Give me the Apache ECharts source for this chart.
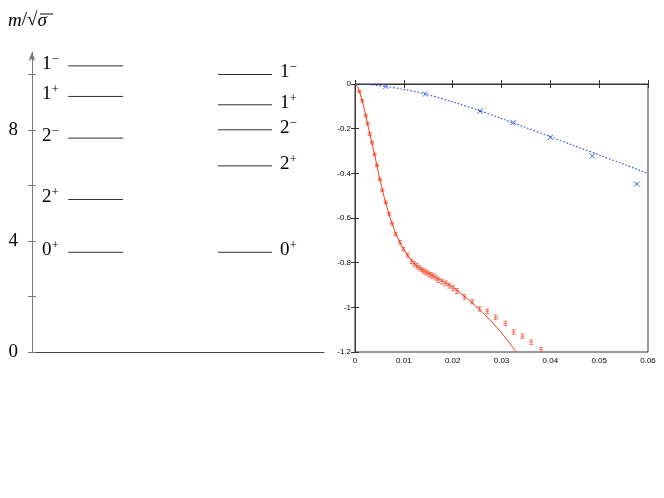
<!DOCTYPE html>
<html>
<head>
<meta charset="utf-8">
<script src="https://cdn.jsdelivr.net/npm/echarts@6/dist/echarts.min.js"></script>
<style>
    html, body {margin: 0; padding: 0; background: #fff;}
    #chart {width: 664px; height: 498px;}
</style>
</head>
<body>
<div id="chart"></div>
<script>
// spectrum, m / sqrt(sigma)
var levelNames = [['0', '+'], ['2', '+'], ['2', '\u2212'], ['1', '+'], ['1', '\u2212']];
var leftLevels = [3.59, 5.49, 7.70, 9.20, 10.30];
var rightLevels = [3.59, 6.70, 8.00, 8.90, 9.99];
var spectrumTicks = [0, 2, 4, 6, 8, 10];
var spectrumLabels = [0, 4, 8];

// red points with error bars
var redX = [0.0009, 0.0015, 0.0022, 0.0026, 0.0030, 0.0035, 0.0040, 0.0045, 0.0051, 0.0056,
    0.0063, 0.0070, 0.0076, 0.0083, 0.0092, 0.0099, 0.0108, 0.0116, 0.0121, 0.0126,
    0.0131, 0.0136, 0.0140, 0.0145, 0.0150, 0.0155, 0.0160, 0.0166, 0.0170, 0.0178,
    0.0186, 0.0193, 0.0201, 0.0209, 0.0224, 0.0240, 0.0255, 0.0271, 0.0288, 0.0308,
    0.0325, 0.0343, 0.0361, 0.0381];
var redY = [-0.034, -0.075, -0.142, -0.178, -0.224, -0.263, -0.316, -0.364, -0.427, -0.476,
    -0.530, -0.581, -0.625, -0.672, -0.709, -0.740, -0.766, -0.794, -0.805, -0.814,
    -0.823, -0.830, -0.837, -0.843, -0.849, -0.855, -0.861, -0.867, -0.878, -0.885,
    -0.893, -0.903, -0.914, -0.927, -0.953, -0.974, -1.007, -1.018, -1.045, -1.072,
    -1.110, -1.129, -1.156, -1.189];
var redErr = [0.006, 0.006, 0.006, 0.006, 0.006, 0.006, 0.006, 0.006, 0.006, 0.006,
    0.006, 0.007, 0.007, 0.007, 0.008, 0.008, 0.009, 0.010, 0.010, 0.010,
    0.010, 0.010, 0.010, 0.011, 0.011, 0.011, 0.011, 0.011, 0.011, 0.011,
    0.011, 0.011, 0.011, 0.011, 0.010, 0.010, 0.010, 0.010, 0.010, 0.010,
    0.010, 0.010, 0.010, 0.010];
// red fit
var redFitX = [0, 0.0005, 0.001, 0.0015, 0.002, 0.0025, 0.003, 0.0035, 0.004, 0.005,
    0.006, 0.007, 0.008, 0.009, 0.010, 0.011, 0.012, 0.013, 0.014, 0.015,
    0.016, 0.017, 0.018, 0.019, 0.020, 0.0215, 0.023, 0.0245, 0.026, 0.0275,
    0.029, 0.0305, 0.032, 0.033];
var redFitY = [0, -0.012, -0.040, -0.078, -0.122, -0.172, -0.220, -0.268, -0.315, -0.418,
    -0.508, -0.585, -0.650, -0.700, -0.742, -0.774, -0.800, -0.819, -0.834, -0.847,
    -0.859, -0.871, -0.883, -0.896, -0.910, -0.934, -0.962, -0.990, -1.020, -1.053,
    -1.089, -1.128, -1.170, -1.200];

// blue crosses and dotted fit
var blueX = [0.0063, 0.0144, 0.0256, 0.0324, 0.0400, 0.0486, 0.0577];
var blueY = [-0.011, -0.045, -0.121, -0.173, -0.239, -0.322, -0.448];
var blueFitX = [0, 0.003, 0.0063, 0.010, 0.0144, 0.020, 0.0256, 0.030, 0.035, 0.040, 0.045, 0.050, 0.055, 0.060];
var blueFitY = [0, -0.003, -0.011, -0.024, -0.045, -0.080, -0.120, -0.155, -0.195, -0.236, -0.277, -0.318, -0.359, -0.401];

function zip(a, b) {
    var res = [];
    for (var i = 0; i < a.length; i++) res.push([a[i], b[i]]);
    return res;
}

var SERIF = '"Liberation Serif", "DejaVu Serif", serif';
var SANS = '"Liberation Sans", Arial, sans-serif';

// column layout of the spectrum, in units of the hidden 0..1 x axis
var colSpan = [[0.124, 0.312], [0.637, 0.822]];
var colLabelX = [0.034, 0.849];

var levelData = [];
for (var i = 0; i < leftLevels.length; i++) levelData.push([0, leftLevels[i], i]);
for (i = 0; i < rightLevels.length; i++) levelData.push([1, rightLevels[i], i]);

function renderLevel(params, api) {
    var col = api.value(0);
    var y = api.value(1);
    var name = levelNames[api.value(2)];
    var p0 = api.coord([colSpan[col][0], y]);
    var p1 = api.coord([colSpan[col][1], y]);
    var pl = api.coord([colLabelX[col], y]);
    return {
        type: 'group',
        children: [
            {type: 'line', shape: {x1: p0[0], y1: p0[1], x2: p1[0], y2: p1[1]},
                style: {stroke: '#333', lineWidth: 1}},
            {type: 'text', x: pl[0], y: pl[1] - 2,
                style: {
                    text: '{b|' + name[0] + '}{s|' + name[1] + '}',
                    align: 'left', verticalAlign: 'middle',
                    rich: {
                        b: {fontSize: 19, fontFamily: SERIF, fill: '#000', lineHeight: 22},
                        s: {fontSize: 13, fontFamily: SERIF, fill: '#000', verticalAlign: 'top', lineHeight: 12}
                    }
                }}
        ]
    };
}

function renderErr(params, api) {
    var x = api.value(0), y = api.value(1), e = api.value(2);
    var p = api.coord([x, y]);
    var t = api.coord([x, y + e]);
    var b = api.coord([x, y - e]);
    var st = {stroke: '#f25a40', lineWidth: 1, opacity: 0.8};
    return {
        type: 'group',
        children: [
            {type: 'line', shape: {x1: p[0], y1: t[1], x2: p[0], y2: b[1]}, style: st},
            {type: 'line', shape: {x1: p[0] - 2, y1: t[1], x2: p[0] + 2, y2: t[1]}, style: st},
            {type: 'line', shape: {x1: p[0] - 2, y1: b[1], x2: p[0] + 2, y2: b[1]}, style: st},
            {type: 'line', shape: {x1: p[0] - 2, y1: p[1], x2: p[0] + 2, y2: p[1]}, style: st}
        ]
    };
}

function renderCross(params, api) {
    var p = api.coord([api.value(0), api.value(1)]);
    var st = {stroke: '#3a5cf0', lineWidth: 1};
    var r = 2.5;
    return {
        type: 'group',
        children: [
            {type: 'line', shape: {x1: p[0] - r, y1: p[1] - r, x2: p[0] + r, y2: p[1] + r}, style: st},
            {type: 'line', shape: {x1: p[0] - r, y1: p[1] + r, x2: p[0] + r, y2: p[1] - r}, style: st}
        ]
    };
}

var errData = [];
for (i = 0; i < redX.length; i++) errData.push([redX[i], redY[i], redErr[i]]);

var frameAxis = {
    axisLine: {show: true, lineStyle: {color: '#333', width: 1}},
    axisTick: {show: true, inside: true, length: 4, lineStyle: {color: '#333'}},
    splitLine: {show: false}
};

var myChart = echarts.init(document.getElementById('chart'));

var option = {
    animation: false,
    backgroundColor: '#fff',
    graphic: [
        {type: 'text', left: 8, top: 11,
            style: {
                text: '{i|m}{n|/\u221A}{i|\u03C3}',
                rich: {
                    i: {fontSize: 19, fontFamily: SERIF, fontStyle: 'italic', fill: '#000'},
                    n: {fontSize: 19, fontFamily: SERIF, fill: '#000'}
                }
            }},
        {type: 'line', shape: {x1: 40, y1: 14, x2: 53, y2: 14}, style: {stroke: '#000', lineWidth: 1}}
    ],
    grid: [
        {left: 32, top: 52, width: 292, height: 300},
        {left: 355, top: 84, width: 293, height: 268, show: true, borderColor: '#333', borderWidth: 1}
    ],
    xAxis: [
        {gridIndex: 0, type: 'value', min: 0, max: 1,
            axisLine: {show: true, lineStyle: {color: '#444'}},
            axisTick: {show: false}, axisLabel: {show: false}, splitLine: {show: false}},
        Object.assign({gridIndex: 1, type: 'value', min: 0, max: 0.06, interval: 0.01, position: 'bottom',
            axisLabel: {fontSize: 8, fontFamily: SANS, color: '#000', margin: 5}}, frameAxis),
        Object.assign({gridIndex: 1, type: 'value', min: 0, max: 0.06, interval: 0.01, position: 'top',
            axisLabel: {show: false}}, frameAxis)
    ],
    yAxis: [
        {gridIndex: 0, type: 'value', min: 0, max: 10.8, position: 'left',
            axisLine: {show: true, symbol: ['none', 'arrow'], symbolSize: [5, 9], lineStyle: {color: '#777'}},
            axisTick: {show: true, customValues: spectrumTicks, length: 4, lineStyle: {color: '#777'}},
            axisLabel: {customValues: spectrumLabels, fontSize: 19, fontFamily: SERIF, color: '#000', margin: 14},
            splitLine: {show: false}},
        {gridIndex: 0, type: 'value', min: 0, max: 10.8, position: 'left',
            axisLine: {show: false},
            axisTick: {show: true, inside: true, customValues: spectrumTicks, length: 4, lineStyle: {color: '#777'}},
            axisLabel: {show: false}, splitLine: {show: false}},
        Object.assign({gridIndex: 1, type: 'value', min: -1.2, max: 0, interval: 0.2, position: 'left',
            axisLabel: {fontSize: 8, fontFamily: SANS, color: '#000', margin: 4}}, frameAxis),
        Object.assign({gridIndex: 1, type: 'value', min: -1.2, max: 0, interval: 0.2, position: 'right',
            axisLabel: {show: false}}, frameAxis)
    ],
    series: [
        {
            type: 'custom',
            xAxisIndex: 0,
            yAxisIndex: 0,
            renderItem: renderLevel,
            data: levelData
        },
        {
            type: 'line',
            xAxisIndex: 1,
            yAxisIndex: 2,
            data: zip(blueFitX, blueFitY),
            showSymbol: false,
            smooth: 0.3,
            lineStyle: {color: '#2f50ee', width: 1.2, type: [1.5, 2]}
        },
        {
            type: 'line',
            xAxisIndex: 1,
            yAxisIndex: 2,
            data: zip(redFitX, redFitY),
            showSymbol: false,
            smooth: 0.3,
            lineStyle: {color: '#ee3a1c', width: 1}
        },
        {
            type: 'custom',
            xAxisIndex: 1,
            yAxisIndex: 2,
            renderItem: renderErr,
            data: errData
        },
        {
            type: 'custom',
            xAxisIndex: 1,
            yAxisIndex: 2,
            renderItem: renderCross,
            data: zip(blueX, blueY)
        }
    ]
};

myChart.setOption(option);
</script>
</body>
</html>
